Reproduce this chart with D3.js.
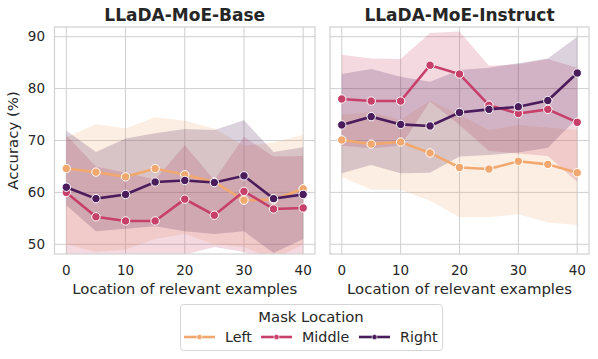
<!DOCTYPE html>
<html>
<head>
<meta charset="utf-8">
<title>Mask location</title>
<script src="https://d3js.org/d3.v7.min.js"></script>
<style>
  body { margin: 0; background: #fff; }
  text { font-family: "DejaVu Sans", sans-serif; fill: #262626; }
</style>
</head>
<body>
<div id="chart"></div>
<script>
const positions = [0, 5, 10, 15, 20, 25, 30, 35, 40];
const seriesNames = ["Left", "Middle", "Right"];
const colors = ["#f1a86f", "#c7406a", "#4b1c5c"];
const panelTitles = ["LLaDA-MoE-Base", "LLaDA-MoE-Instruct"];
const yTicks = [50, 60, 70, 80, 90];
const xTicks = [0, 10, 20, 30, 40];

// Base model: mean and error band
const baseLeft      = [64.6, 63.9, 63.0, 64.6, 63.4, 62.0, 58.5, 58.6, 60.7];
const baseLeftHi    = [70.6, 73.2, 72.3, 74.5, 73.8, 72.3, 69.0, 69.6, 71.1];
const baseLeftLo    = [50.0, 48.5, 49.0, 51.0, 52.0, 50.0, 49.5, 47.0, 50.0];
const baseMiddle    = [60.0, 55.3, 54.5, 54.5, 58.7, 55.6, 60.2, 56.8, 57.0];
const baseMiddleHi  = [71.0, 65.0, 63.8, 62.5, 69.1, 62.4, 70.7, 66.9, 67.0];
const baseMiddleLo  = [47.0, 46.0, 47.0, 48.0, 48.0, 49.5, 48.5, 46.0, 47.5];
const baseRight     = [61.0, 58.8, 59.6, 62.0, 62.3, 61.9, 63.2, 58.8, 59.6];
const baseRightHi   = [71.9, 67.8, 70.4, 71.4, 72.2, 72.0, 73.9, 67.8, 68.7];
const baseRightLo   = [57.5, 52.5, 53.0, 53.5, 52.5, 52.0, 52.5, 48.3, 51.0];

// Instruct model
const instLeft      = [70.1, 69.3, 69.7, 67.6, 64.8, 64.5, 66.0, 65.4, 63.8];
const instLeftHi    = [75.0, 75.5, 74.0, 77.7, 75.0, 72.0, 73.0, 72.5, 72.0];
const instLeftLo    = [63.0, 60.5, 60.5, 58.4, 55.2, 55.2, 55.8, 54.2, 53.7];
const instMiddle    = [78.0, 77.6, 77.6, 84.5, 82.8, 76.8, 75.2, 76.0, 73.5];
const instMiddleHi  = [86.5, 85.8, 85.7, 90.7, 91.0, 84.4, 84.7, 85.7, 84.0];
const instMiddleLo  = [69.0, 68.5, 69.0, 77.5, 73.0, 68.0, 67.5, 67.0, 62.0];
const instRight     = [73.0, 74.6, 73.1, 72.8, 75.4, 76.0, 76.5, 77.7, 83.0];
const instRightHi   = [82.8, 83.8, 82.3, 81.3, 83.6, 84.0, 84.9, 85.8, 90.0];
const instRightLo   = [63.7, 65.3, 63.7, 63.8, 66.9, 67.2, 67.7, 68.6, 74.3];

const panels = [
  [[baseLeft, baseLeftLo, baseLeftHi], [baseMiddle, baseMiddleLo, baseMiddleHi], [baseRight, baseRightLo, baseRightHi]],
  [[instLeft, instLeftLo, instLeftHi], [instMiddle, instMiddleLo, instMiddleHi], [instRight, instRightLo, instRightHi]]
];

const W = 598, H = 359;
const plotTop = 27, plotBottom = 254;
const panelX = [[54.5, 315], [330, 589]];

const svg = d3.select("#chart").append("svg")
    .attr("width", W).attr("height", H);

const y = d3.scaleLinear().domain([48.13, 91.87]).range([plotBottom, plotTop]);

panels.forEach(function(panel, p) {
    const x = d3.scaleLinear().domain([-2, 42]).range(panelX[p]);
    const g = svg.append("g");
    const clipId = "clip" + p;
    g.append("clipPath").attr("id", clipId).append("rect")
        .attr("x", panelX[p][0]).attr("y", plotTop)
        .attr("width", panelX[p][1] - panelX[p][0]).attr("height", plotBottom - plotTop);

    // grid
    g.selectAll(".gy").data(yTicks).enter().append("line")
        .attr("x1", panelX[p][0]).attr("x2", panelX[p][1])
        .attr("y1", d => y(d)).attr("y2", d => y(d))
        .attr("stroke", "#cfcfcf").attr("stroke-width", 1);
    g.selectAll(".gx").data(xTicks).enter().append("line")
        .attr("y1", plotTop).attr("y2", plotBottom)
        .attr("x1", d => x(d)).attr("x2", d => x(d))
        .attr("stroke", "#cfcfcf").attr("stroke-width", 1);

    const plot = g.append("g").attr("clip-path", "url(#" + clipId + ")");

    // error bands
    panel.forEach(function(s, i) {
        const area = d3.area()
            .x((d, j) => x(positions[j]))
            .y0((d, j) => y(s[1][j]))
            .y1((d, j) => y(s[2][j]));
        plot.append("path").datum(s[0])
            .attr("d", area)
            .attr("fill", colors[i]).attr("fill-opacity", 0.2);
    });

    // lines and markers
    panel.forEach(function(s, i) {
        const line = d3.line().x((d, j) => x(positions[j])).y(d => y(d));
        plot.append("path").datum(s[0])
            .attr("d", line).attr("fill", "none")
            .attr("stroke", colors[i]).attr("stroke-width", 2.6);
        plot.selectAll(".m" + i).data(s[0]).enter().append("circle")
            .attr("cx", (d, j) => x(positions[j])).attr("cy", d => y(d))
            .attr("r", 4.2).attr("fill", colors[i])
            .attr("stroke", "#fff").attr("stroke-width", 1);
    });

    // frame
    g.append("rect")
        .attr("x", panelX[p][0]).attr("y", plotTop)
        .attr("width", panelX[p][1] - panelX[p][0]).attr("height", plotBottom - plotTop)
        .attr("fill", "none").attr("stroke", "#d0d0d0").attr("stroke-width", 1.2);

    // x tick labels
    g.selectAll(".xt").data(xTicks).enter().append("text")
        .attr("x", d => x(d)).attr("y", 275)
        .attr("text-anchor", "middle").attr("font-size", "13.5px")
        .text(d => d);
    g.append("text")
        .attr("x", (panelX[p][0] + panelX[p][1]) / 2).attr("y", 294)
        .attr("text-anchor", "middle").attr("font-size", "14.9px")
        .text("Location of relevant examples");

    g.append("text")
        .attr("x", (panelX[p][0] + panelX[p][1]) / 2).attr("y", 21)
        .attr("text-anchor", "middle").attr("font-size", "17px")
        .attr("font-weight", "bold")
        .text(panelTitles[p]);

    if (p === 0) {
        g.selectAll(".yt").data(yTicks).enter().append("text")
            .attr("x", 45).attr("y", d => y(d)).attr("dy", "0.35em")
            .attr("text-anchor", "end").attr("font-size", "13.5px")
            .text(d => d);
        g.append("text")
            .attr("transform", "translate(18," + ((plotTop + plotBottom) / 2) + ") rotate(-90)")
            .attr("text-anchor", "middle").attr("font-size", "14.9px")
            .text("Accuracy (%)");
    }
});

// legend
const lg = svg.append("g");
lg.append("rect")
    .attr("x", 180.5).attr("y", 304.5).attr("width", 262).attr("height", 46)
    .attr("rx", 3).attr("fill", "#fff").attr("stroke", "#d6d6d6");
lg.append("text")
    .attr("x", 311).attr("y", 322).attr("text-anchor", "middle")
    .attr("font-size", "14.8px").text("Mask Location");
const legendX = [184, 261, 359];
seriesNames.forEach(function(name, i) {
    const lx = legendX[i];
    lg.append("line").attr("x1", lx).attr("x2", lx + 31)
        .attr("y1", 337).attr("y2", 337)
        .attr("stroke", colors[i]).attr("stroke-width", 2.6);
    lg.append("circle").attr("cx", lx + 15.5).attr("cy", 337).attr("r", 2.6)
        .attr("fill", colors[i]).attr("stroke", "#fff").attr("stroke-width", 0.6);
    lg.append("text").attr("x", lx + 41).attr("y", 337).attr("dy", "0.35em")
        .attr("font-size", "14.3px").text(name);
});
</script>
</body>
</html>
